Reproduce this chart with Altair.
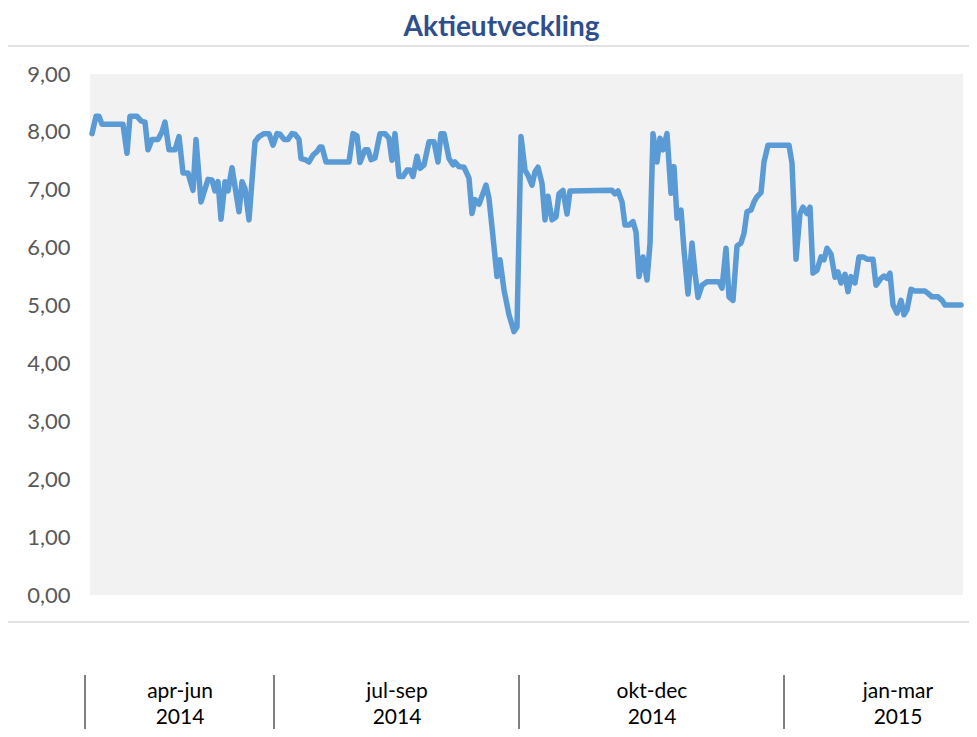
import altair as alt
import pandas as pd

# trading-day position along the category axis (plot units) and share price
dag = [2, 6, 9, 12, 33, 37, 40, 47, 51, 55, 58, 62, 68, 72, 75, 79, 85, 89, 93, 98,
       103, 106, 111, 118, 122, 125, 128, 131, 135, 138, 142, 149, 152, 155, 159, 165,
       169, 174, 179, 183, 187, 190, 194, 198, 202, 205, 209, 211, 215, 219, 223, 227,
       230, 232, 236, 259, 263, 267, 270, 275, 278, 281, 285, 290, 295, 299, 302, 305,
       309, 313, 317, 320, 323, 327, 330, 334, 339, 344, 348, 351, 354, 359, 363, 365,
       369, 374, 379, 382, 385, 389, 393, 396, 399, 403, 407, 410, 414, 419, 424, 427,
       431, 435, 438, 442, 445, 448, 452, 455, 458, 462, 466, 469, 473, 477, 480, 522,
       525, 528, 532, 535, 539, 543, 546, 549, 553, 557, 560, 563, 567, 570, 573, 577,
       581, 584, 587, 591, 594, 598, 602, 605, 608, 612, 617, 629, 632, 636, 639, 643,
       647, 651, 654, 657, 661, 664, 667, 671, 674, 678, 699, 702, 706, 710, 713, 717,
       720, 723, 727, 731, 734, 737, 741, 745, 748, 751, 755, 758, 761, 765, 769, 773,
       777, 783, 786, 791, 794, 797, 800, 803, 807, 811, 814, 817, 821, 825, 835, 838,
       842, 848, 852, 855, 871]
kurs = [7.97, 8.27, 8.27, 8.13, 8.13, 7.63, 8.27, 8.27, 8.19, 8.17, 7.69, 7.87, 7.87,
        8.00, 8.17, 7.69, 7.69, 7.92, 7.29, 7.29, 6.99, 7.87, 6.79, 7.18, 7.17, 6.98,
        7.14, 6.49, 7.14, 6.98, 7.38, 6.62, 7.14, 7.02, 6.48, 7.83, 7.92, 7.97, 7.97,
        7.77, 7.97, 7.96, 7.87, 7.87, 7.97, 7.96, 7.87, 7.54, 7.52, 7.48, 7.60, 7.66,
        7.74, 7.74, 7.48, 7.48, 7.97, 7.93, 7.47, 7.69, 7.69, 7.52, 7.55, 7.97, 7.97,
        7.89, 7.51, 7.97, 7.23, 7.23, 7.34, 7.34, 7.23, 7.58, 7.37, 7.43, 7.83, 7.83,
        7.48, 7.97, 7.97, 7.54, 7.43, 7.48, 7.40, 7.39, 7.20, 6.59, 6.83, 6.75, 6.94,
        7.08, 6.85, 6.19, 5.50, 5.79, 5.27, 4.84, 4.55, 4.63, 7.92, 7.34, 7.25, 7.08,
        7.31, 7.39, 7.11, 6.48, 6.89, 6.48, 6.53, 6.93, 6.99, 6.58, 6.98, 6.99, 6.93,
        6.98, 6.79, 6.39, 6.39, 6.45, 6.27, 5.50, 5.84, 5.44, 6.07, 7.97, 7.48, 7.89,
        7.69, 7.97, 6.94, 7.40, 6.51, 6.65, 5.96, 5.20, 6.08, 5.56, 5.14, 5.35, 5.41,
        5.41, 5.30, 5.99, 5.15, 5.09, 6.03, 6.08, 6.25, 6.62, 6.65, 6.79, 6.88, 6.95,
        7.48, 7.77, 7.77, 7.46, 5.80, 6.59, 6.70, 6.59, 6.70, 5.56, 5.61, 5.84, 5.79,
        5.99, 5.89, 5.49, 5.58, 5.39, 5.54, 5.24, 5.50, 5.39, 5.84, 5.84, 5.80, 5.80,
        5.35, 5.47, 5.51, 5.47, 5.56, 5.01, 4.87, 5.09, 4.84, 4.93, 5.28, 5.25, 5.25,
        5.21, 5.15, 5.15, 5.09, 5.01, 5.01]

# quarter groups of the category axis
kvartal = ["apr-jun", "jul-sep", "okt-dec", "jan-mar"]
ar = ["2014", "2014", "2014", "2015"]
kvartal_mitt = [90, 307, 562, 808]
kvartal_start = [-5, 184, 429, 694]

y_ticks = [0, 1, 2, 3, 4, 5, 6, 7, 8, 9]

FONT = "Lato"

df = pd.DataFrame({"dag": dag, "kurs": kurs})
dq = pd.DataFrame({"kvartal": kvartal, "ar": ar, "mitt": kvartal_mitt, "start": kvartal_start})

xscale = alt.Scale(domain=[0, 873], nice=False, zero=False)

line = alt.Chart(df).mark_line(
    color="#5B9BD5", strokeWidth=5.5, strokeJoin="round", strokeCap="round"
).encode(
    x=alt.X("dag:Q", scale=xscale, axis=None),
    y=alt.Y(
        "kurs:Q",
        scale=alt.Scale(domain=[0, 9], nice=False),
        axis=alt.Axis(
            values=y_ticks,
            labelExpr="replace(format(datum.value, '.2f'), '.', ',')",
            domain=False, ticks=False, grid=False, title=None,
            labelFont=FONT, labelFontSize=22, labelColor="#595959", labelPadding=20,
        ),
    ),
)

border = alt.Chart(alt.Data(values=[{}])).mark_rect(
    fillOpacity=0, stroke="#D9D9D9", strokeWidth=1.5
).encode(
    x=alt.value(-84), x2=alt.value(900), y=alt.value(-28), y2=alt.value(548)
)

seps = alt.Chart(dq).mark_rule(color="black", strokeWidth=1).encode(
    x=alt.X("start:Q", scale=xscale), y=alt.value(601), y2=alt.value(700)
)
lab1 = alt.Chart(dq).mark_text(font=FONT, fontSize=21, color="black", baseline="middle").encode(
    x=alt.X("mitt:Q", scale=xscale), y=alt.value(618), text="kvartal:N"
)
lab2 = alt.Chart(dq).mark_text(font=FONT, fontSize=21, color="black", baseline="alphabetic").encode(
    x=alt.X("mitt:Q", scale=xscale), y=alt.value(650), text="ar:N"
)

chart = alt.layer(border, line, seps, lab1, lab2).properties(
    width=873,
    height=521,
    autosize=alt.AutoSizeParams(type="none"),
    padding={"left": 82, "top": 66, "right": 6, "bottom": 134},
    title=alt.TitleParams(
        "Aktieutveckling", font=FONT, fontSize=28, fontWeight="bold",
        color="#2E4E8E", anchor="middle", dx=-25, offset=3,
    ),
).configure_view(fill="#F2F2F2", stroke=None)

chart.save("out.html", embed_options={"renderer": "svg", "actions": False})
